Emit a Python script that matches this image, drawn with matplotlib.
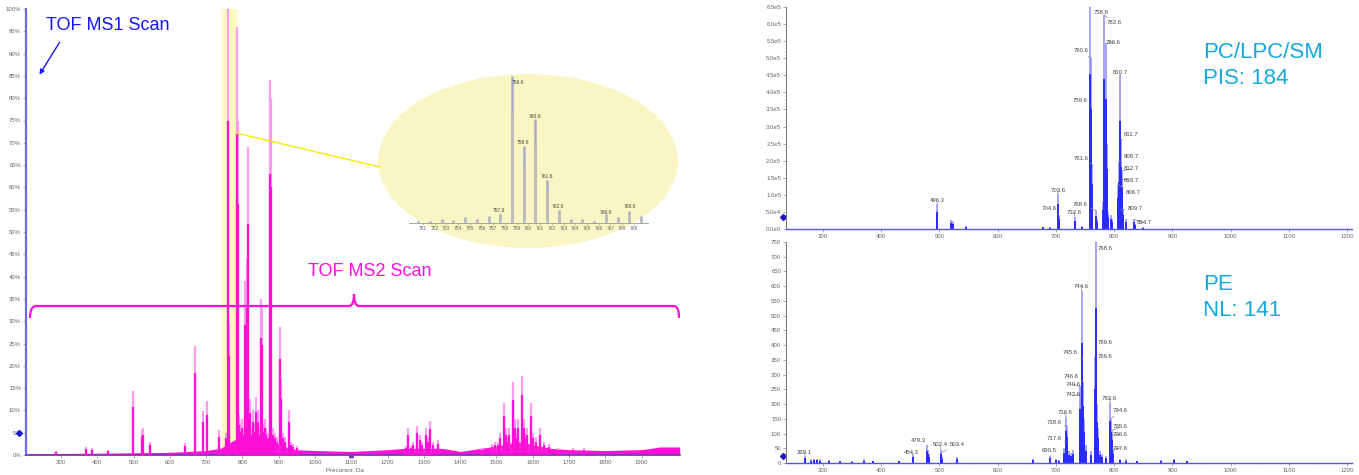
import matplotlib
matplotlib.use("Agg")
import matplotlib.pyplot as plt
import matplotlib.ticker as mticker
from matplotlib.patches import Ellipse, PathPatch, FancyArrowPatch
from matplotlib.path import Path

W, H = 1359, 475
plt.rcParams['font.family'] = ['Liberation Sans', 'DejaVu Sans']

# ---- left: TOF MS2 precursor scan (percent) ----
ms2_mz = [287, 370, 385, 430, 498, 522, 527, 545, 600, 642, 668, 690, 702, 735, 755,
          760, 762, 785, 787, 790, 795, 800, 805, 808, 812, 814, 818, 822, 826, 830, 833,
          836, 840, 843, 846, 850, 853, 857, 862, 866, 870, 875, 878, 884, 890, 895,
          903, 906, 912, 918, 928, 935, 940, 950, 1250, 1257, 1265, 1270, 1280, 1290, 1295,
          1305, 1310, 1317, 1325, 1340, 1460, 1487, 1495, 1505, 1510, 1520, 1525, 1530,
          1535, 1545, 1550, 1555, 1560, 1570, 1575, 1580, 1585, 1595, 1600, 1610, 1620,
          1630, 1645, 1670, 1710, 1740]
ms2_pct = [0.8, 1.8, 1.6, 1.2, 14.3, 5.5, 6.0, 3.0, 0.6, 2.6, 24.4, 9.9, 12.0, 5.5, 5.0,
           100, 29.6, 96, 75, 9, 7, 8, 6, 39, 44, 69, 8, 12.5, 6, 10, 7,
           13, 8, 10, 6, 35, 33, 7, 8, 6, 5, 84, 80, 6, 5, 4,
           28.7, 17, 5, 4, 10, 3, 2.5, 2, 2, 6, 2, 3, 6.5, 4.5, 3,
           6, 4, 7.7, 3, 3.4, 1.5, 2.5, 3, 3, 5, 11.6, 6, 4,
           6, 16.4, 8, 5, 8, 17.8, 8, 5, 6, 11.6, 5, 4, 6,
           3, 2.5, 1.5, 1.5, 1.5]
ms2_base_mz = [204, 400, 600, 700, 740, 780, 800, 830, 860, 900, 930, 950, 1000, 1100,
               1200, 1250, 1350, 1400, 1500, 1560, 1650, 1700, 1800, 1900, 1950, 2005]
ms2_base_pct = [0.3, 0.4, 0.6, 1.0, 1.5, 3.5, 3.5, 3, 3, 2.5, 1.5, 1.2, 1.0, 0.8,
                1.2, 1.5, 1.5, 0.8, 2.0, 3, 1.5, 1.2, 1.0, 1.2, 1.8, 1.8]
ms2_yticks = list(range(0, 101, 5))
ms2_xticks = list(range(300, 2000, 100))

# ---- inset zoom of the 751-769 region ----
zoom_mz = [750.6, 751.6, 752.6, 753.6, 754.6, 755.6, 756.6, 757.6, 758.6, 759.6,
           760.6, 761.6, 762.6, 763.6, 764.6, 765.6, 766.6, 767.6, 768.6, 769.6]
zoom_pct = [1.5, 1.5, 2.5, 2, 4, 2.5, 4.5, 6, 100, 52,
            71, 29, 8.6, 2.5, 2.5, 1.5, 6, 4, 8, 5]
zoom_labels = ["757.6", "758.6", "759.6", "760.6", "761.6", "762.6", "766.6", "768.6"]
zoom_label_px = [(499, 211), (518, 82), (523, 143), (535, 116), (547, 176), (558, 207),
                 (606, 212), (630, 207)]

# ---- right top: PIS 184 ----
pis_mz = [496.3, 520, 522, 524, 545, 677, 690, 703.6, 704.6, 705.6, 732.6, 733.6, 745,
          758.6, 759.6, 760.6, 761.6, 762.6, 768.6, 770, 780.6, 782.6, 783.6, 784.6,
          786.6, 787.6, 788.6, 790, 795, 797, 806.7, 808.7, 809.7, 810.7, 811.7, 812.7,
          813.7, 814.7, 820, 834.7, 836, 850]
pis_int = [0.73, 0.25, 0.22, 0.2, 0.1, 0.07, 0.05, 1.03, 0.42, 0.15, 0.35, 0.2, 0.1,
           6.5, 3.6, 5.0, 1.9, 0.6, 0.55, 0.3, 0.8, 6.27, 3.5, 2.6,
           5.44, 2.5, 1.0, 0.5, 0.4, 0.3, 1.3, 1.96, 0.55, 4.5, 2.6, 1.7,
           1.45, 0.6, 0.3, 0.28, 0.15, 0.05]
pis_labels = ["496.3", "703.6", "704.6", "732.6", "758.6", "759.6", "760.6", "761.6",
              "768.6", "782.6", "786.6", "806.7", "808.7", "809.7", "810.7", "811.7",
              "812.7", "813.7", "834.7"]
pis_label_px = [(937, 201), (1058, 191), (1049, 209), (1074, 212), (1101, 12), (1080, 101),
                (1081, 51), (1081, 158), (1080, 204), (1114, 23), (1113, 43), (1133, 193),
                (1131, 156), (1135, 208), (1120, 73), (1131, 134), (1131, 169), (1131, 180),
                (1144, 223)]
pis_yticks = [i * 0.5e5 for i in range(14)]

# ---- right bottom: NL 141 ----
nl_mz = [269.1, 280, 285, 290, 295, 310, 330, 350, 370, 385, 430, 454.3, 479.3, 480.3,
         482, 502.4, 503.4, 505, 530, 660, 690.5, 700, 705, 714, 716.6, 717.6, 718.6,
         719.6, 722, 726, 730, 740.6, 741.6, 742.6, 743.6, 744.6, 745.6, 746.6, 747.6,
         748.6, 752, 760, 766.6, 768.6, 769.6, 770.6, 771.6, 775, 780, 786, 793.6, 794.6,
         795.6, 796.6, 797.6, 810, 820, 840, 880, 902, 925]
nl_int = [25, 12, 14, 15, 12, 10, 8, 7, 12, 8, 8, 27, 60, 45,
          30, 45, 35, 20, 20, 15, 25, 15, 10, 50, 156, 70, 125,
          60, 40, 35, 45, 260, 150, 230, 180, 584, 353, 275, 150,
          80, 60, 40, 360, 750, 390, 200, 120, 40, 30, 25, 204, 150,
          110, 95, 45, 15, 12, 8, 10, 15, 8]
nl_labels = ["269.1", "454.3", "479.3", "502.4", "503.4", "690.5", "716.6", "717.6",
             "718.6", "740.6", "742.6", "744.6", "745.6", "746.6", "766.6", "768.6",
             "769.6", "793.6", "794.6", "795.6", "796.6", "797.6"]
nl_label_px = [(804, 452), (911, 452), (918, 440), (940, 445), (957, 445), (1049, 450),
               (1065, 413), (1054, 439), (1054, 422), (1073, 384), (1073, 395), (1081, 286),
               (1070, 353), (1071, 376), (1105, 357), (1105, 248), (1105, 342), (1109, 398),
               (1120, 411), (1120, 427), (1120, 435), (1120, 448)]
nl_yticks = list(range(0, 751, 50))
right_xticks = list(range(300, 1201, 100))

MAG = '#ff10d8'
MAG_LIGHT = '#ff9cef'
BLUE = '#2a2aff'
BLUE_LIGHT = '#8c8cff'
CYAN = '#17a9dc'
TICK = '#666666'


def box(l, t, r, b):
    return [l / W, 1 - b / H, (r - l) / W, (b - t) / H]


def small_ticks(ax, size=4.3):
    ax.tick_params(axis='both', which='major', labelsize=size, labelcolor=TICK,
                   color='#888888', length=2, width=0.5, pad=1.5)
    ax.tick_params(axis='both', which='minor', color='#999999', length=1, width=0.4)


def label_peaks(ax, labels, label_px, mzs, ints, size=4.3):
    lookup = dict(zip([f"{m:.1f}" for m in mzs], ints))
    for text, (px, py) in zip(labels, label_px):
        ax.annotate(text, xy=(float(text), lookup[text]), xycoords='data',
                    xytext=(px, H - py), textcoords='figure pixels',
                    ha='center', va='center', fontsize=size, color='#444444',
                    arrowprops=dict(arrowstyle='-', color='#8a8a8a', lw=0.5,
                                    shrinkA=0, shrinkB=0))


fig = plt.figure(figsize=(W / 100, H / 100), dpi=100)
fig.patch.set_facecolor('white')

# ---------------- left panel ----------------
ax = fig.add_axes(box(26, 9, 680, 455))
ax.set_xlim(203.6, 2005.7)
ax.set_ylim(0, 100)
ax.axvspan(743, 782, color='#fff8c0', zorder=0)
ax.fill_between(ms2_base_mz, 0, ms2_base_pct, color=MAG, lw=0, zorder=1)
ax.vlines(ms2_mz, 0, ms2_pct, color=MAG_LIGHT, lw=1.6, zorder=2)
ax.vlines(ms2_mz, 0, [v * 0.75 for v in ms2_pct], color=MAG, lw=1.6, zorder=3)
ax.set_yticks(ms2_yticks)
ax.set_yticklabels([f"{v}%" for v in ms2_yticks])
ax.set_xticks(ms2_xticks)
ax.yaxis.set_minor_locator(mticker.MultipleLocator(1))
small_ticks(ax)
for s in ['top', 'right']:
    ax.spines[s].set_visible(False)
ax.spines['left'].set_color('#6a6af0')
ax.spines['left'].set_linewidth(1.6)
ax.spines['bottom'].set_color('#7a3ab0')
ax.spines['bottom'].set_linewidth(1.2)
ax.plot([-0.01], [5], marker='D', ms=3, color='#1a1acc', transform=ax.get_yaxis_transform(),
        clip_on=False)
ax.plot([1100], [0], marker='^', ms=3, color='#7a3ab0', clip_on=False)
fig.text(345 / W, 1 - 470 / H, "Precursor, Da", fontsize=4.5, color=TICK, ha='center',
         va='center')

# ---------------- right top ----------------
def sci(v, pos):
    if v == 0:
        return "0.0e0"
    m, e = f"{v:.1e}".split('e')
    return f"{m}e{int(e)}"


ax1 = fig.add_axes(box(786, 7, 1352, 229))
ax1.set_xlim(236.4, 1208.6)
ax1.set_ylim(0, 6.5e5)
ax1.vlines(pis_mz, 0, [v * 1e5 for v in pis_int], color=BLUE_LIGHT, lw=1.1)
ax1.vlines(pis_mz, 0, [v * 0.7e5 for v in pis_int], color=BLUE, lw=1.4)
ax1.set_yticks(pis_yticks)
ax1.yaxis.set_major_formatter(mticker.FuncFormatter(sci))
ax1.set_xticks(right_xticks)
ax1.yaxis.set_minor_locator(mticker.MultipleLocator(0.1e5))
ax1.xaxis.set_minor_locator(mticker.MultipleLocator(50))
small_ticks(ax1)
label_peaks(ax1, pis_labels, pis_label_px, pis_mz, [v * 1e5 for v in pis_int])
ax1.plot([-0.006], [0.35e5], marker='D', ms=3, color='#1a1acc',
         transform=ax1.get_yaxis_transform(), clip_on=False)

# ---------------- right bottom ----------------
ax2 = fig.add_axes(box(786, 242, 1352, 463))
ax2.set_xlim(236.4, 1208.6)
ax2.set_ylim(0, 750)
ax2.vlines(nl_mz, 0, nl_int, color=BLUE_LIGHT, lw=1.1)
ax2.vlines(nl_mz, 0, [v * 0.7 for v in nl_int], color=BLUE, lw=1.4)
ax2.set_yticks(nl_yticks)
ax2.set_xticks(right_xticks)
ax2.yaxis.set_minor_locator(mticker.MultipleLocator(10))
ax2.xaxis.set_minor_locator(mticker.MultipleLocator(50))
small_ticks(ax2)
label_peaks(ax2, nl_labels, nl_label_px, nl_mz, nl_int)
ax2.plot([-0.006], [25], marker='D', ms=3, color='#1a1acc',
         transform=ax2.get_yaxis_transform(), clip_on=False)

for a in (ax1, ax2):
    for s in ['top', 'right']:
        a.spines[s].set_visible(False)
    a.spines['left'].set_color('#777777')
    a.spines['left'].set_linewidth(0.7)
    a.spines['bottom'].set_color('#5555ee')
    a.spines['bottom'].set_linewidth(1.0)

fig.text(1203 / W, 1 - 52 / H, "PC/LPC/SM", fontsize=16, color=CYAN, va='center')
fig.text(1203 / W, 1 - 78 / H, "PIS: 184", fontsize=16, color=CYAN, va='center')
fig.text(1203 / W, 1 - 284 / H, "PE", fontsize=16, color=CYAN, va='center')
fig.text(1203 / W, 1 - 310 / H, "NL: 141", fontsize=16, color=CYAN, va='center')

# ---------------- overlay annotations (pixel coords) ----------------
ov = fig.add_axes([0, 0, 1, 1])
ov.set_xlim(0, W)
ov.set_ylim(H, 0)
ov.axis('off')
ov.add_patch(Ellipse((528, 161), 300, 174, facecolor='#faf6c4', edgecolor='none'))
ov.plot([236, 380], [133, 167], color='#f5ee00', lw=1.0)
verts = [(30, 318), (30, 306), (36, 306), (349, 306), (354, 306), (354, 294),
         (354, 306), (359, 306), (674, 306), (679, 306), (679, 318)]
codes = [Path.MOVETO, Path.CURVE3, Path.CURVE3, Path.LINETO, Path.CURVE3, Path.CURVE3,
         Path.CURVE3, Path.CURVE3, Path.LINETO, Path.CURVE3, Path.CURVE3]
ov.add_patch(PathPatch(Path(verts, codes), facecolor='none', edgecolor=MAG, lw=1.6))
ov.text(308, 272, "TOF MS2 Scan", fontsize=13, color=MAG, va='center', ha='left')
ov.text(46, 26, "TOF MS1 Scan", fontsize=13, color='#1515ff', va='center', ha='left')
ov.add_patch(FancyArrowPatch((61, 40), (38, 77), arrowstyle='-|>', mutation_scale=7,
                             color='#1515ff', lw=1.0))

# ---------------- inset zoom ----------------
ins = fig.add_axes(box(409, 70, 648, 223))
ins.set_xlim(749.82, 770.2)
ins.set_ylim(0, 104)
ins.patch.set_visible(False)
ins.vlines(zoom_mz, 0, zoom_pct, color='#a9a9c9', lw=1.8)
ins.vlines(zoom_mz, 0, [v * 0.75 for v in zoom_pct], color='#bdbdbd', lw=1.8)
ins.set_xticks(list(range(751, 770)))
ins.set_yticks([])
ins.tick_params(axis='x', labelsize=3.6, labelcolor=TICK, color='#888888', length=1.5,
                width=0.4, pad=1)
for s in ['top', 'right', 'left']:
    ins.spines[s].set_visible(False)
ins.spines['bottom'].set_color('#999999')
ins.spines['bottom'].set_linewidth(0.6)
for text, (px, py) in zip(zoom_labels, zoom_label_px):
    fig.text(px / W, 1 - py / H, text, fontsize=3.6, color='#444444', ha='center',
             va='center')

fig.savefig("out.png", dpi=100)
